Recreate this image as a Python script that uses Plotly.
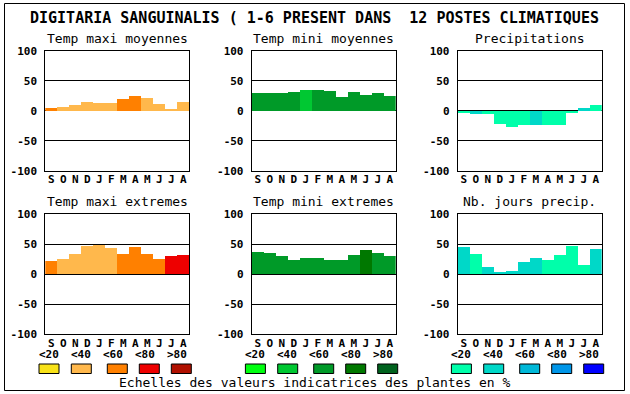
import plotly.graph_objects as go

W, H = 630, 394

months = ["S", "O", "N", "D", "J", "F", "M", "A", "M", "J", "J", "A"]
yticks = [-100, -50, 0, 50, 100]
class_labels = ["<20", "<40", "<60", "<80", ">80"]

title_text = "DIGITARIA SANGUINALIS ( 1-6 PRESENT DANS  12 POSTES CLIMATIQUES"
footer_text = "Echelles des valeurs indicatrices des plantes en %"

panel_titles = ["Temp maxi moyennes", "Temp mini moyennes", "Precipitations",
                "Temp maxi extremes", "Temp mini extremes", "Nb. jours precip."]

tmax_moy = [5, 7, 10, 15, 13, 13, 20, 25, 22, 12, 3, 15]
tmax_moy_cls = [2, 1, 1, 1, 1, 1, 2, 2, 1, 1, 1, 1]
tmin_moy = [30, 30, 30, 32, 35, 35, 34, 24, 32, 27, 30, 25]
tmin_moy_cls = [2, 2, 2, 2, 1, 2, 2, 2, 2, 2, 2, 2]
precip = [-2, -5, -5, -22, -27, -24, -24, -24, -24, -3, 5, 10]
precip_cls = [0, 1, 0, 0, 0, 0, 1, 0, 0, 0, 1, 0]
tmax_ext = [22, 25, 34, 47, 49, 44, 34, 45, 34, 25, 30, 32]
tmax_ext_cls = [2, 1, 1, 1, 1, 1, 2, 2, 2, 2, 3, 3]
tmin_ext = [37, 35, 30, 24, 27, 27, 24, 24, 32, 40, 35, 30]
tmin_ext_cls = [2, 2, 2, 2, 2, 2, 2, 2, 2, 3, 2, 2]
nbj = [45, 34, 12, 2, 5, 20, 27, 24, 32, 47, 15, 42]
nbj_cls = [1, 0, 1, 1, 1, 1, 1, 0, 0, 0, 0, 1]

orange_scale = ["#F8E218", "#FFB84C", "#FF8000", "#EE0000", "#B01000"]
green_scale = ["#00FF10", "#00C832", "#009A28", "#007800", "#00621E"]
cyan_scale = ["#00FFAA", "#00D8C8", "#00B8D8", "#0096E8", "#0000FF"]

series = [tmax_moy, tmin_moy, precip, tmax_ext, tmin_ext, nbj]
classes = [tmax_moy_cls, tmin_moy_cls, precip_cls, tmax_ext_cls, tmin_ext_cls, nbj_cls]
scales = [orange_scale, green_scale, cyan_scale, orange_scale, green_scale, cyan_scale]

# layout in pixels
col_left = [45.3, 251.7, 457.7]
plot_w = 144
row_top = [50.7, 214.3]
plot_h = 120

def px(x):
    return x / W

def py(y):
    return 1 - y / H

mono = "DejaVu Sans Mono"
fig = go.Figure()
annotations = []
shapes = []

for i in range(6):
    r, c = divmod(i, 3)
    ax = "" if i == 0 else str(i + 1)
    x0, x1 = col_left[c], col_left[c] + plot_w
    y0, y1 = row_top[r], row_top[r] + plot_h
    fig.add_trace(go.Bar(
        x=list(range(12)), y=series[i],
        marker=dict(color=[scales[i][k] for k in classes[i]], line=dict(width=0)),
        width=1.0, xaxis="x" + ax, yaxis="y" + ax, showlegend=False,
        hoverinfo="y",
    ))
    fig.layout["xaxis" + ax] = dict(
        domain=[px(x0), px(x1)], anchor="y" + ax, range=[-0.5, 11.5],
        tickvals=list(range(12)), ticktext=months, showgrid=False, zeroline=False,
        showline=True, mirror=True, linecolor="black", linewidth=1,
        ticks="", ticklabelstandoff=-2, automargin=False,
        tickfont=dict(family=mono, size=11, color="black", weight="bold"),
        fixedrange=True,
    )
    fig.layout["yaxis" + ax] = dict(
        domain=[py(y1), py(y0)], anchor="x" + ax, range=[-100, 100],
        tickvals=yticks, ticktext=[str(v) for v in yticks], showgrid=True,
        gridcolor="black", gridwidth=1, zeroline=True, zerolinecolor="black",
        zerolinewidth=1, showline=True, mirror=True, linecolor="black", linewidth=1,
        ticks="", ticklabelstandoff=5, automargin=False,
        tickfont=dict(family=mono, size=11, color="black", weight="bold"),
        fixedrange=True, layer="below traces",
    )
    annotations.append(dict(
        text=panel_titles[i], x=px((x0 + x1) / 2), y=py(y0 - 12.5), xref="paper",
        yref="paper", showarrow=False, xanchor="center", yanchor="middle",
        font=dict(family=mono, size=13, color="black"),
    ))

# legends under bottom row
box_offsets = [-6.3, 26, 62, 94, 126]
label_offsets = [3.7, 35.7, 67.7, 99.7, 131.7]
leg_scales = [orange_scale, green_scale, cyan_scale]
for c in range(3):
    for k in range(5):
        bx = col_left[c] + box_offsets[k]
        shapes.append(dict(
            type="rect", xref="paper", yref="paper",
            x0=px(bx), x1=px(bx + 20), y0=py(373.5), y1=py(364),
            fillcolor=leg_scales[c][k], line=dict(color="black", width=1),
        ))
        annotations.append(dict(
            text=class_labels[k], x=px(col_left[c] + label_offsets[k]), y=py(354),
            xref="paper", yref="paper", showarrow=False, xanchor="center",
            yanchor="middle", font=dict(family=mono, size=11, color="black", weight="bold"),
        ))

annotations.append(dict(
    text=title_text, x=px(314.5), y=py(18), xref="paper", yref="paper",
    showarrow=False, xanchor="center", yanchor="middle",
    font=dict(family=mono, size=15, color="black", weight="bold"),
))
annotations.append(dict(
    text=footer_text, x=px(314.5), y=py(382), xref="paper", yref="paper",
    showarrow=False, xanchor="center", yanchor="middle",
    font=dict(family=mono, size=13, color="black"),
))
shapes.append(dict(
    type="rect", xref="paper", yref="paper", x0=px(4.5), x1=px(624.5),
    y0=py(390.5), y1=py(3.5), line=dict(color="black", width=1),
    fillcolor="rgba(0,0,0,0)",
))

fig.update_layout(
    width=W, height=H, margin=dict(l=0, r=0, t=0, b=0, pad=0, autoexpand=False),
    paper_bgcolor="white", plot_bgcolor="white",
    bargap=0, annotations=annotations, shapes=shapes,
    font=dict(family=mono, color="black"),
)

fig.write_html("out.html", config={"displayModeBar": False},
               post_script="document.body.style.margin='0';")
